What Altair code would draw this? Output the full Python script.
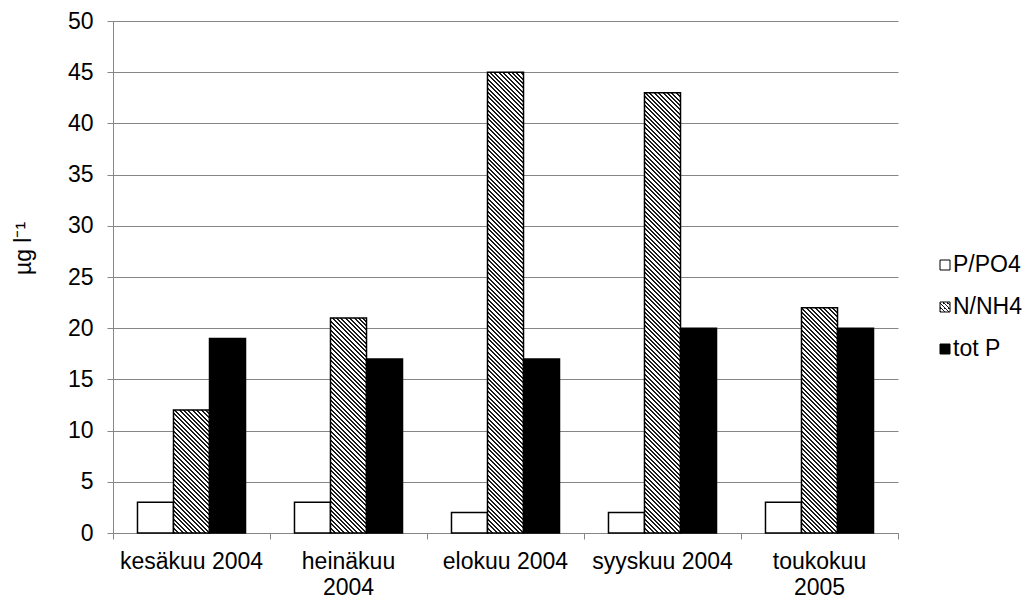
import math
import altair as alt
import pandas as pd

months = ["kesäkuu 2004", "heinäkuu 2004", "elokuu 2004", "syyskuu 2004", "toukokuu 2005"]
series = ["P/PO4", "N/NH4", "tot P"]
p_po4 = [3, 3, 2, 2, 3]
n_nh4 = [12, 21, 45, 43, 22]
tot_p = [19, 17, 17, 20, 20]

rows = []
for i, m in enumerate(months):
    rows.append({"month": m, "series": "P/PO4", "value": p_po4[i]})
    rows.append({"month": m, "series": "N/NH4", "value": n_nh4[i]})
    rows.append({"month": m, "series": "tot P", "value": tot_p[i]})
df = pd.DataFrame(rows)

W, H = 785, 512
YMAX = 50
GRAY = "#868686"
FONT = "Liberation Sans"
FS = 23
OUTER = 0.68
bar_w = W / len(months) / (3 + 2 * OUTER)


def hatch(w, h, period=4.4, frac=0.45, dark="#1a1a1a"):
    L = w + h
    n = int(math.ceil(L / period))
    stops = []
    for i in range(n):
        a = min(i * period / L, 1)
        b = min((i + frac) * period / L, 1)
        c = min((i + 1) * period / L, 1)
        stops += [
            {"offset": round(a, 5), "color": dark},
            {"offset": round(b, 5), "color": dark},
            {"offset": round(b, 5), "color": "white"},
            {"offset": round(c, 5), "color": "white"},
        ]
    k = L / (w * w + h * h)
    return {"gradient": "linear", "x1": 0, "y1": 1,
            "x2": round(w * k, 6), "y2": round(1 - h * k, 6), "stops": stops}


conds = []
for i, m in enumerate(months):
    h = n_nh4[i] * H / YMAX
    conds.append({"test": f"datum.series === 'N/NH4' && datum.month === '{m}'",
                  "value": hatch(bar_w, h)})
conds.append({"test": "datum.series === 'tot P'", "value": "black"})

bars = alt.Chart(df).mark_bar(stroke="black", strokeWidth=1.5).encode(
    x=alt.X("month:N", sort=months,
            scale=alt.Scale(domain=months, paddingInner=0, paddingOuter=0),
            axis=alt.Axis(orient="bottom", title=None, ticks=False, tickSize=0, domain=False,
                          grid=False, labelAngle=0, labelFont=FONT, labelFontSize=FS,
                          labelColor="black", labelPadding=17, labelLineHeight=26,
                          labelOverlap=False, labelLimit=300, labelBaseline="top",
                          labelExpr="(datum.label == 'heinäkuu 2004' || datum.label == 'toukokuu 2005') ? split(datum.label, ' ') : datum.label")),
    xOffset=alt.XOffset("series:N", sort=series,
                        scale=alt.Scale(domain=series, paddingInner=0, paddingOuter=OUTER)),
    y=alt.Y("value:Q", scale=alt.Scale(domain=[0, YMAX], nice=False),
            axis=alt.Axis(values=list(range(0, 51, 5)), title="µg l⁻¹",
                          titleFont=FONT, titleFontSize=FS, titleFontWeight="normal",
                          titleColor="black", titleX=-83, titleY=227, titleAngle=270,
                          titleBaseline="alphabetic", titleAlign="center",
                          labelFont=FONT, labelFontSize=FS, labelColor="black",
                          labelPadding=14, tickSize=6, tickColor=GRAY, domainColor=GRAY,
                          grid=True, gridColor=GRAY, gridWidth=1, domainWidth=1)),
    fill=alt.FillValue(value="white", condition=conds),
)

bounds = pd.DataFrame({"b": list(range(len(months) + 1))})
ticks = alt.Chart(bounds).mark_rule(opacity=0).encode(
    x=alt.X("b:Q", scale=alt.Scale(domain=[0, len(months)], nice=False, zero=False),
            axis=alt.Axis(orient="bottom", values=list(range(len(months) + 1)),
                          labels=False, title=None, grid=False, tickSize=6,
                          tickColor=GRAY, domainColor=GRAY, domainWidth=1))
)

leg_df = pd.DataFrame({"series": series})
leg_scale = alt.Scale(type="point", domain=series, range=[244, 328], padding=0)
leg_conds = [
    {"test": "datum.series === 'N/NH4'", "value": hatch(10, 10, period=4.0)},
    {"test": "datum.series === 'tot P'", "value": "black"},
]
leg_sq = alt.Chart(leg_df).mark_square(size=100, stroke="black", strokeWidth=1, opacity=1).encode(
    x=alt.value(832),
    y=alt.Y("series:N", scale=leg_scale, axis=None),
    fill=alt.FillValue(value="white", condition=leg_conds),
)
leg_txt = alt.Chart(leg_df).mark_text(align="left", baseline="middle", font=FONT,
                                      fontSize=FS, color="black").encode(
    x=alt.value(840),
    y=alt.Y("series:N", scale=leg_scale, axis=None),
    text="series:N",
)

chart = alt.layer(ticks, bars, leg_sq, leg_txt).resolve_scale(
    x="independent", y="independent"
).properties(
    width=W, height=H,
    autosize=alt.AutoSizeParams(type="none"),
    padding={"left": 105, "top": 13, "right": 126, "bottom": 62},
).configure_view(stroke=None)

chart.save("out.html", embed_options={"renderer": "svg", "actions": False})
